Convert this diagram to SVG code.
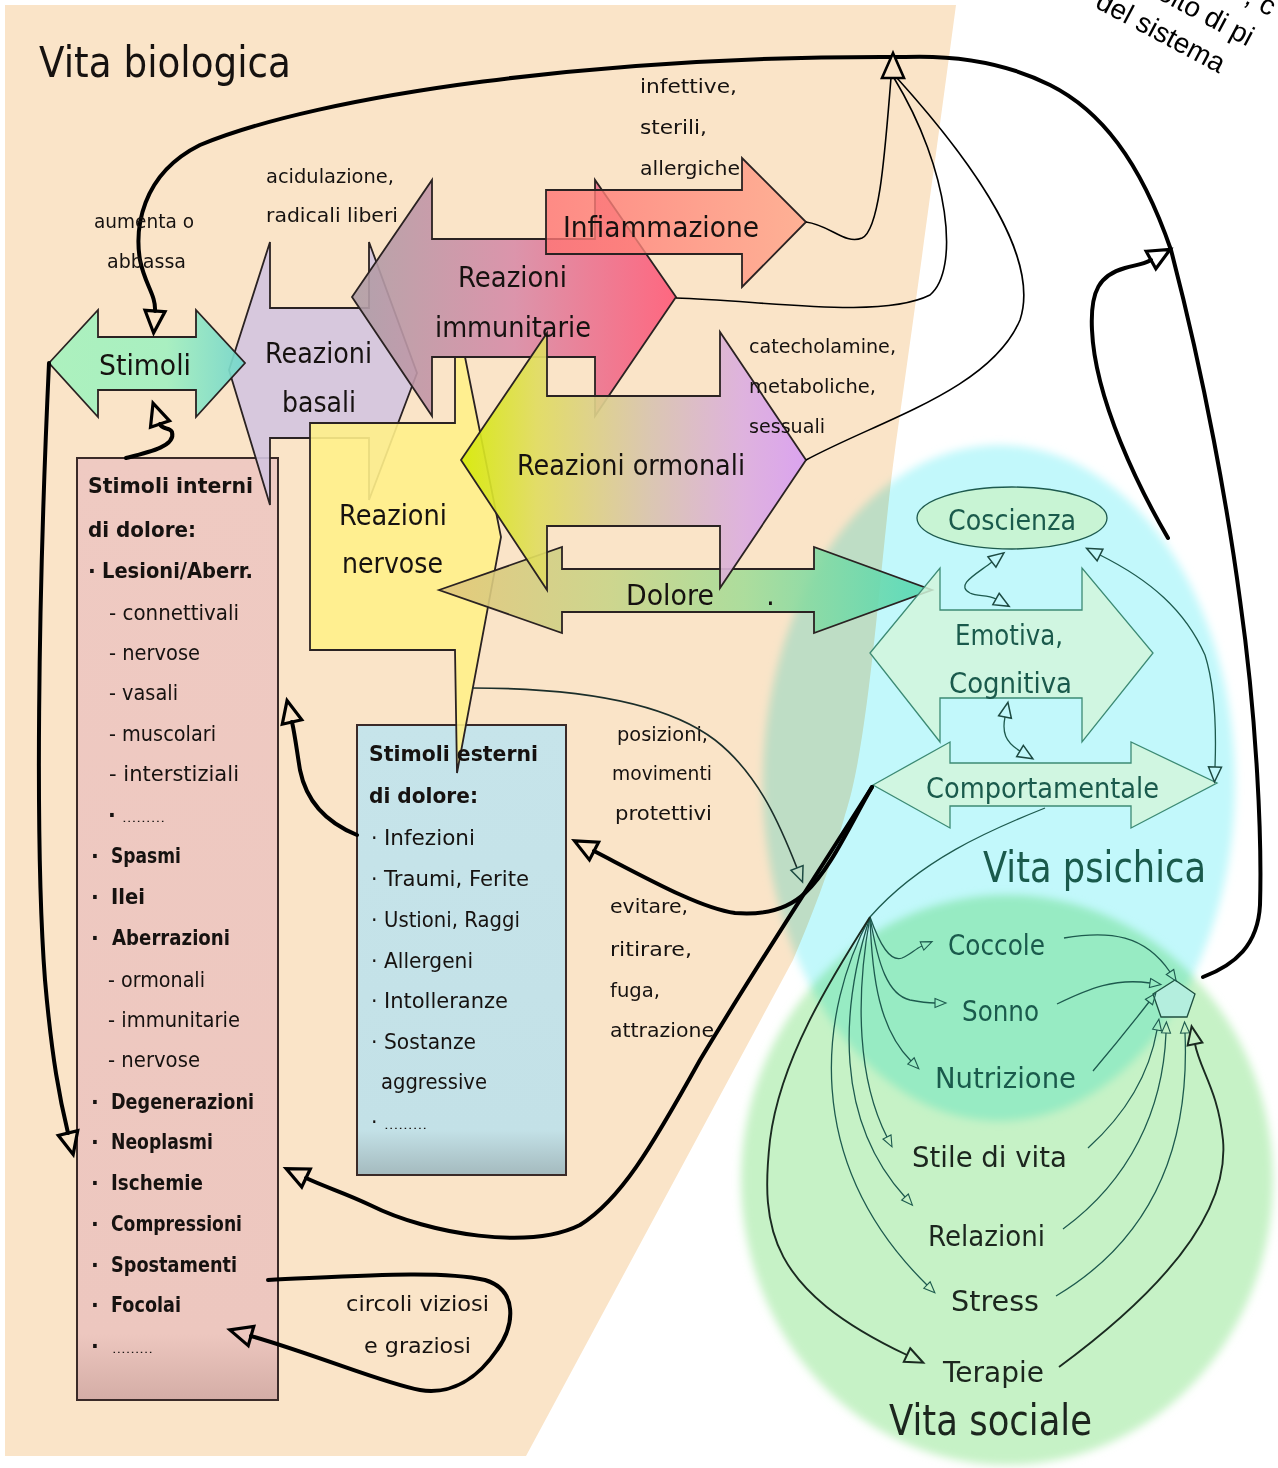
<svg xmlns="http://www.w3.org/2000/svg" width="1278" height="1468" viewBox="0 0 1278 1468">
<style>
text{font-family:'DejaVu Sans','Liberation Sans',sans-serif;fill:#161210}
.b{font-weight:bold}
.l{font-size:19px}
.m{font-size:20.5px}
.n{font-size:28px}
.big{font-size:42px}
.p{fill:#1a5a4c}
.k{fill:#1c261e}
.ar{stroke:#2a2222;stroke-width:1.8;stroke-linejoin:miter}
.gr{stroke:#3c8a74;stroke-width:1.3;fill:#d2f6dc;fill-opacity:0.85}
.thick{fill:none;stroke:#000;stroke-width:4;stroke-linecap:round}
.thin{fill:none;stroke:#000;stroke-width:1.6}
.tl{fill:none;stroke:#1d5a4e;stroke-width:1.3}
.dk{fill:none;stroke:#1a2a20;stroke-width:1.9}
.rot{font-family:'Liberation Sans',Arial,sans-serif;font-size:28px;fill:#000}
</style>
<defs>
<linearGradient id="gStim"><stop offset="0" stop-color="#a6f2bd"/><stop offset="0.6" stop-color="#a2f0c0"/><stop offset="1" stop-color="#72d6cc"/></linearGradient>
<linearGradient id="gImm"><stop offset="0" stop-color="#ae9ea6"/><stop offset="0.5" stop-color="#d88ca8"/><stop offset="1" stop-color="#ff5a78"/></linearGradient>
<linearGradient id="gInf"><stop offset="0" stop-color="#ff7474"/><stop offset="1" stop-color="#ffa488"/></linearGradient>
<linearGradient id="gOrm"><stop offset="0" stop-color="#d6ea08"/><stop offset="0.22" stop-color="#e0dc60"/><stop offset="0.55" stop-color="#d8c4b0"/><stop offset="0.82" stop-color="#dcaee0"/><stop offset="1" stop-color="#d89ef2"/></linearGradient>
<linearGradient id="gDol"><stop offset="0" stop-color="#e2c67a"/><stop offset="0.35" stop-color="#c8d488"/><stop offset="0.62" stop-color="#a4dc98"/><stop offset="0.95" stop-color="#5cd8b2"/></linearGradient>
<linearGradient id="gPink" x1="0" y1="0" x2="0" y2="1"><stop offset="0" stop-color="#efcac2"/><stop offset="0.93" stop-color="#edc7bf"/><stop offset="1" stop-color="#d4ada6"/></linearGradient>
<linearGradient id="gBlue" x1="0" y1="0" x2="0" y2="1"><stop offset="0" stop-color="#c6e4ea"/><stop offset="0.9" stop-color="#c3e1e7"/><stop offset="1" stop-color="#a4babe"/></linearGradient>
<filter id="soft" x="-10%" y="-10%" width="120%" height="120%"><feGaussianBlur stdDeviation="4"/></filter>
<marker id="mb" markerUnits="userSpaceOnUse" markerWidth="30" markerHeight="26" viewBox="-3 -3 30 26" refX="0" refY="10" orient="auto" overflow="visible"><path d="M0,0 L22,10 L0,20 Z" fill="none" stroke="#000" stroke-width="3.2"/></marker>
<marker id="mk" markerUnits="userSpaceOnUse" markerWidth="24" markerHeight="20" viewBox="-2 -2 24 20" refX="0" refY="7.5" orient="auto" overflow="visible"><path d="M0,0 L18,7.5 L0,15 Z" fill="none" stroke="#1a2a20" stroke-width="2"/></marker>
<marker id="mm" markerUnits="userSpaceOnUse" markerWidth="21" markerHeight="18" viewBox="-2 -2 21 18" refX="0" refY="6.5" orient="auto-start-reverse" overflow="visible"><path d="M0,0 L15,6.5 L0,13 Z" fill="none" stroke="#1d4a42" stroke-width="1.5"/></marker>
<marker id="mt" markerUnits="userSpaceOnUse" markerWidth="16" markerHeight="13" viewBox="-2 -2 16 13" refX="0" refY="4.5" orient="auto" overflow="visible"><path d="M0,0 L11,4.5 L0,9 Z" fill="none" stroke="#1d5a4e" stroke-width="1.1"/></marker>
</defs>

<rect width="1278" height="1468" fill="#ffffff"/>
<g id="vita-biologica-area"><path d="M5,5 L956,5 C930,200 905,380 895,450 C880,560 870,740 845,815 C830,870 810,920 793,960 L526,1456 L5,1456 Z" fill="#fae4c8"/></g>
<g id="vita-psichica-area"><ellipse cx="999" cy="783" rx="236" ry="338" fill="#c2f8fb" filter="url(#soft)" style="mix-blend-mode:multiply"/></g>
<g id="vita-sociale-area"><ellipse cx="1007" cy="1180" rx="266" ry="285" fill="#c6f2c6" filter="url(#soft)" style="mix-blend-mode:multiply"/></g>

<g id="stimoli-interni"><rect x="77" y="458" width="201" height="942" fill="url(#gPink)" stroke="#3a2a28" stroke-width="2"/></g>
<g id="stimoli-esterni"><rect x="357" y="725" width="209" height="450" fill="url(#gBlue)" stroke="#3a2a28" stroke-width="2"/></g>

<g id="reazioni-basali"><polygon class="ar" points="229,370 270,242 270,308 369,308 369,242 417,373 369,500 369,438 270,438 270,505" fill="#d3c4df" fill-opacity="0.9"/></g>
<g id="reazioni-immunitarie"><polygon class="ar" points="352,297 432,180 432,239 595,239 595,180 676,297 595,416 595,357 432,357 432,416" fill="url(#gImm)" fill-opacity="0.9"/></g>
<g id="infiammazione"><polygon class="ar" points="546,190 742,190 742,158 806,222 742,287 742,254 546,254" fill="url(#gInf)" fill-opacity="0.8" stroke-width="1.2"/></g>
<g id="reazioni-nervose"><polygon class="ar" points="455,357 465,357 501,537 457,773 455,650 310,650 310,423 455,423" fill="#fff08a" fill-opacity="0.9"/></g>
<g id="dolore"><polygon class="ar" points="439,590 562,547 562,569 814,569 814,547 932,590 814,633 814,612 562,612 562,633" fill="url(#gDol)" fill-opacity="0.9"/></g>
<g id="reazioni-ormonali"><polygon class="ar" points="461,460 547,333 547,396 720,396 720,332 806,460 720,588 720,526 547,526 547,590" fill="url(#gOrm)" fill-opacity="0.92"/></g>
<g id="stimoli"><polygon class="ar" points="49,363 98,310 98,337 196,337 196,310 245,363 196,417 196,390 98,390 98,417" fill="url(#gStim)" fill-opacity="0.92" stroke="#1d4a30"/></g>

<g id="emotiva-cognitiva"><polygon class="gr" points="870,653 940,568 940,610 1082,610 1082,568 1153,653 1082,742 1082,698 940,698 940,742"/></g>
<g id="comportamentale"><polygon class="gr" points="873,785 950,742 950,763 1131,763 1131,742 1217,783 1131,828 1131,806 950,806 950,828"/></g>
<g id="coscienza"><ellipse cx="1012" cy="518" rx="95" ry="31" fill="#c8f4d4" stroke="#1d5a4e" stroke-width="1.3"/></g>
<g id="pentagono"><polygon points="1175,980 1195,994 1187,1017 1161,1017 1153,994" fill="#b4eede" stroke="#1f4f40" stroke-width="1.3"/></g>

<g id="connectors">
<path class="thick" d="M1203,977 C1235,965 1258,945 1260,905 C1262,840 1257,720 1240,600 C1228,510 1205,380 1171,250 C1140,160 1100,110 1050,85 C1010,65 960,55 905,57 C600,55 320,95 200,145 C140,175 135,230 140,260 C145,285 156,295 155,311" marker-end="url(#mb)"/>
<path class="thick" d="M49,363 C38,600 35,850 45,980 C52,1060 60,1100 68,1133" marker-end="url(#mb)"/>
<path class="thick" d="M126,458 C150,452 176,446 172,432 C170,427 162,430 160,424" marker-end="url(#mb)"/>
<path class="thick" d="M357,835 C325,822 306,800 300,770 C297,752 295,735 292,722" marker-end="url(#mb)"/>
<path class="thick" d="M872,787 C850,825 830,870 805,893 C785,912 760,915 735,913 C700,908 650,880 594,851" marker-end="url(#mb)"/>
<path class="thick" d="M872,787 C820,870 760,960 700,1060 C650,1150 620,1200 580,1225 C530,1250 430,1235 370,1205 C345,1193 325,1187 306,1178" marker-end="url(#mb)"/>
<path class="thick" d="M268,1280 C360,1276 440,1270 485,1280 C518,1290 515,1325 497,1350 C478,1378 452,1395 420,1390 C385,1384 320,1356 251,1336" marker-end="url(#mb)"/>
<path class="thick" d="M1168,538 C1140,490 1095,400 1092,330 C1090,290 1100,275 1125,268 C1135,265 1142,265 1151,260" marker-end="url(#mb)"/>
<path class="thin" d="M806,222 C830,225 845,245 862,238 C880,230 885,150 891,78"/>
<path class="thin" d="M676,298 C760,300 880,320 930,295 C960,270 950,170 894,78"/>
<path class="thin" d="M806,460 C880,420 990,390 1020,320 C1040,260 980,170 897,78"/>
<polygon points="893,53 882,78 904,78" fill="#fae4c8" stroke="#000" stroke-width="2.6"/>
<path d="M472,688 C560,688 660,698 715,740 C760,775 782,830 797,868" fill="none" stroke="#1b2e2a" stroke-width="1.6" marker-end="url(#mm)"/>
<path class="tl" d="M1045,808 C990,830 920,860 870,917"/>
<path class="tl" d="M870,917 C880,945 890,962 902,958 C910,955 915,949 922,946" marker-end="url(#mt)"/>
<path class="tl" d="M870,917 C878,965 888,995 910,1000 C920,1002 928,1003 935,1003" marker-end="url(#mt)"/>
<path class="tl" d="M870,917 C872,980 880,1030 911,1061" marker-end="url(#mt)"/>
<path class="tl" d="M870,917 C855,1000 858,1080 887,1137" marker-end="url(#mt)"/>
<path class="tl" d="M870,917 C840,1010 835,1120 905,1197" marker-end="url(#mt)"/>
<path class="tl" d="M870,917 C820,1010 800,1160 927,1285" marker-end="url(#mt)"/>
<path class="dk" d="M870,917 C830,980 780,1060 770,1140 C760,1230 770,1290 907,1355" marker-end="url(#mk)"/>
<path class="tl" d="M1064,938 C1110,930 1145,935 1170,972" marker-end="url(#mt)"/>
<path class="tl" d="M1057,1004 C1090,988 1115,978 1150,983" marker-end="url(#mt)"/>
<path class="tl" d="M1093,1071 C1115,1045 1135,1020 1149,1002" marker-end="url(#mt)"/>
<path class="tl" d="M1088,1148 C1130,1110 1150,1070 1157,1030" marker-end="url(#mt)"/>
<path class="tl" d="M1063,1229 C1130,1180 1163,1110 1166,1033" marker-end="url(#mt)"/>
<path class="tl" d="M1056,1296 C1150,1240 1190,1150 1185,1033" marker-end="url(#mt)"/>
<path class="dk" d="M1059,1367 C1150,1300 1230,1220 1223,1140 C1218,1090 1200,1070 1195,1044" marker-end="url(#mk)"/>
<path class="tl" d="M992,562 C975,575 955,585 970,593 C978,597 987,594 996,599" stroke-width="1.5" marker-start="url(#mm)" marker-end="url(#mm)"/>
<path class="tl" d="M1005,717 C1002,732 1005,742 1020,751" stroke-width="1.5" marker-start="url(#mm)" marker-end="url(#mm)"/>
<path class="tl" d="M1100,555 C1150,580 1185,610 1205,655 C1216,690 1216,740 1215,767" stroke-width="1.5" marker-start="url(#mm)" marker-end="url(#mm)"/>
</g>

<g id="labels">
<text x="39" y="77" class="big" textLength="252" lengthAdjust="spacingAndGlyphs">Vita biologica</text>
<text x="94" y="228" class="l" textLength="100" lengthAdjust="spacingAndGlyphs">aumenta o</text>
<text x="107" y="268" class="l" textLength="79" lengthAdjust="spacingAndGlyphs">abbassa</text>
<text x="266" y="183" class="l" textLength="128" lengthAdjust="spacingAndGlyphs">acidulazione,</text>
<text x="266" y="222" class="l" textLength="132" lengthAdjust="spacingAndGlyphs">radicali liberi</text>
<text x="640" y="93" class="l" textLength="97" lengthAdjust="spacingAndGlyphs">infettive,</text>
<text x="640" y="134" class="l" textLength="67" lengthAdjust="spacingAndGlyphs">sterili,</text>
<text x="640" y="175" class="l" textLength="100" lengthAdjust="spacingAndGlyphs">allergiche</text>
<text x="749" y="353" class="l" textLength="147" lengthAdjust="spacingAndGlyphs">catecholamine,</text>
<text x="749" y="393" class="l" textLength="127" lengthAdjust="spacingAndGlyphs">metaboliche,</text>
<text x="749" y="433" class="l" textLength="76" lengthAdjust="spacingAndGlyphs">sessuali</text>
<text x="617" y="741" class="l" textLength="91" lengthAdjust="spacingAndGlyphs">posizioni,</text>
<text x="612" y="780" class="l" textLength="100" lengthAdjust="spacingAndGlyphs">movimenti</text>
<text x="615" y="820" class="l" textLength="97" lengthAdjust="spacingAndGlyphs">protettivi</text>
<text x="610" y="913" class="l" textLength="78" lengthAdjust="spacingAndGlyphs">evitare,</text>
<text x="610" y="956" class="l" textLength="82" lengthAdjust="spacingAndGlyphs">ritirare,</text>
<text x="610" y="997" class="l" textLength="50" lengthAdjust="spacingAndGlyphs">fuga,</text>
<text x="610" y="1037" class="l" textLength="104" lengthAdjust="spacingAndGlyphs">attrazione</text>
<text x="346" y="1311" class="m" textLength="143" lengthAdjust="spacingAndGlyphs">circoli viziosi</text>
<text x="364" y="1353" class="m" textLength="107" lengthAdjust="spacingAndGlyphs">e graziosi</text>
<text x="99" y="375" class="n" textLength="92" lengthAdjust="spacingAndGlyphs">Stimoli</text>
<text x="265" y="363" class="n" textLength="107" lengthAdjust="spacingAndGlyphs">Reazioni</text>
<text x="282" y="412" class="n" textLength="74" lengthAdjust="spacingAndGlyphs">basali</text>
<text x="458" y="287" class="n" textLength="109" lengthAdjust="spacingAndGlyphs">Reazioni</text>
<text x="435" y="337" class="n" textLength="156" lengthAdjust="spacingAndGlyphs">immunitarie</text>
<text x="563" y="237" class="n" textLength="196" lengthAdjust="spacingAndGlyphs">Infiammazione</text>
<text x="517" y="475" class="n" textLength="228" lengthAdjust="spacingAndGlyphs">Reazioni ormonali</text>
<text x="339" y="525" class="n" textLength="108" lengthAdjust="spacingAndGlyphs">Reazioni</text>
<text x="342" y="573" class="n" textLength="101" lengthAdjust="spacingAndGlyphs">nervose</text>
<text x="626" y="605" class="n" textLength="88" lengthAdjust="spacingAndGlyphs">Dolore</text>
<text x="766" y="605" class="n">.</text>
</g>

<g id="stimoli-interni-text">
<text x="88" y="493" class="m b" textLength="165" lengthAdjust="spacingAndGlyphs">Stimoli interni</text>
<text x="88" y="537" class="m b" textLength="108" lengthAdjust="spacingAndGlyphs">di dolore:</text>
<text x="88" y="578" class="m b">·</text>
<text x="102" y="578" class="m b" textLength="151" lengthAdjust="spacingAndGlyphs">Lesioni/Aberr.</text>
<text x="109" y="620" class="m" textLength="130" lengthAdjust="spacingAndGlyphs">- connettivali</text>
<text x="109" y="660" class="m" textLength="91" lengthAdjust="spacingAndGlyphs">- nervose</text>
<text x="109" y="700" class="m" textLength="69" lengthAdjust="spacingAndGlyphs">- vasali</text>
<text x="109" y="741" class="m" textLength="107" lengthAdjust="spacingAndGlyphs">- muscolari</text>
<text x="109" y="781" class="m" textLength="130" lengthAdjust="spacingAndGlyphs">- interstiziali</text>
<text x="108" y="822" class="m b">·</text>
<text x="122" y="822" font-size="11" textLength="43" lengthAdjust="spacingAndGlyphs">………</text>
<text x="91" y="863" class="m b">·</text><text x="111" y="863" class="m b" textLength="70" lengthAdjust="spacingAndGlyphs">Spasmi</text>
<text x="91" y="904" class="m b">·</text><text x="111" y="904" class="m b" textLength="34" lengthAdjust="spacingAndGlyphs">Ilei</text>
<text x="91" y="945" class="m b">·</text><text x="112" y="945" class="m b" textLength="118" lengthAdjust="spacingAndGlyphs">Aberrazioni</text>
<text x="108" y="987" class="m" textLength="97" lengthAdjust="spacingAndGlyphs">- ormonali</text>
<text x="108" y="1027" class="m" textLength="132" lengthAdjust="spacingAndGlyphs">- immunitarie</text>
<text x="108" y="1067" class="m" textLength="92" lengthAdjust="spacingAndGlyphs">- nervose</text>
<text x="91" y="1109" class="m b">·</text><text x="111" y="1109" class="m b" textLength="143" lengthAdjust="spacingAndGlyphs">Degenerazioni</text>
<text x="91" y="1149" class="m b">·</text><text x="111" y="1149" class="m b" textLength="102" lengthAdjust="spacingAndGlyphs">Neoplasmi</text>
<text x="91" y="1190" class="m b">·</text><text x="111" y="1190" class="m b" textLength="92" lengthAdjust="spacingAndGlyphs">Ischemie</text>
<text x="91" y="1231" class="m b">·</text><text x="111" y="1231" class="m b" textLength="131" lengthAdjust="spacingAndGlyphs">Compressioni</text>
<text x="91" y="1272" class="m b">·</text><text x="111" y="1272" class="m b" textLength="126" lengthAdjust="spacingAndGlyphs">Spostamenti</text>
<text x="91" y="1312" class="m b">·</text><text x="111" y="1312" class="m b" textLength="70" lengthAdjust="spacingAndGlyphs">Focolai</text>
<text x="91" y="1353" class="m b">·</text><text x="112" y="1353" font-size="11" textLength="41" lengthAdjust="spacingAndGlyphs">………</text>
</g>

<g id="stimoli-esterni-text">
<text x="369" y="761" class="m b" textLength="169" lengthAdjust="spacingAndGlyphs">Stimoli esterni</text>
<text x="369" y="803" class="m b" textLength="109" lengthAdjust="spacingAndGlyphs">di dolore:</text>
<text x="371" y="845" class="m">·</text><text x="384" y="845" class="m" textLength="91" lengthAdjust="spacingAndGlyphs">Infezioni</text>
<text x="371" y="886" class="m">·</text><text x="384" y="886" class="m" textLength="145" lengthAdjust="spacingAndGlyphs">Traumi, Ferite</text>
<text x="371" y="927" class="m">·</text><text x="384" y="927" class="m" textLength="136" lengthAdjust="spacingAndGlyphs">Ustioni, Raggi</text>
<text x="371" y="968" class="m">·</text><text x="384" y="968" class="m" textLength="89" lengthAdjust="spacingAndGlyphs">Allergeni</text>
<text x="371" y="1008" class="m">·</text><text x="384" y="1008" class="m" textLength="124" lengthAdjust="spacingAndGlyphs">Intolleranze</text>
<text x="371" y="1049" class="m">·</text><text x="384" y="1049" class="m" textLength="92" lengthAdjust="spacingAndGlyphs">Sostanze</text>
<text x="381" y="1089" class="m" textLength="106" lengthAdjust="spacingAndGlyphs">aggressive</text>
<text x="371" y="1129" class="m">·</text><text x="384" y="1129" font-size="11" textLength="43" lengthAdjust="spacingAndGlyphs">………</text>
</g>

<g id="psichica-text">
<text x="948" y="530" class="n p" textLength="128" lengthAdjust="spacingAndGlyphs">Coscienza</text>
<text x="955" y="645" class="n p" textLength="108" lengthAdjust="spacingAndGlyphs">Emotiva,</text>
<text x="949" y="693" class="n p" textLength="123" lengthAdjust="spacingAndGlyphs">Cognitiva</text>
<text x="926" y="798" class="n p" textLength="233" lengthAdjust="spacingAndGlyphs">Comportamentale</text>
<text x="983" y="882" class="big p" textLength="223" lengthAdjust="spacingAndGlyphs">Vita psichica</text>
</g>

<g id="sociale-text">
<text x="948" y="955" class="n p" textLength="97" lengthAdjust="spacingAndGlyphs">Coccole</text>
<text x="962" y="1021" class="n p" textLength="77" lengthAdjust="spacingAndGlyphs">Sonno</text>
<text x="935" y="1088" class="n p" textLength="141" lengthAdjust="spacingAndGlyphs">Nutrizione</text>
<text x="912" y="1167" class="n k" textLength="155" lengthAdjust="spacingAndGlyphs">Stile di vita</text>
<text x="928" y="1246" class="n k" textLength="117" lengthAdjust="spacingAndGlyphs">Relazioni</text>
<text x="951" y="1311" class="n k" textLength="88" lengthAdjust="spacingAndGlyphs">Stress</text>
<text x="943" y="1382" class="n k" textLength="101" lengthAdjust="spacingAndGlyphs">Terapie</text>
<text x="889" y="1435" class="big k" textLength="203" lengthAdjust="spacingAndGlyphs">Vita sociale</text>
</g>

<g id="corner-note" transform="translate(1094,7) rotate(28)">
<text x="130" y="-74" class="rot">, c</text>
<text x="50" y="-37" class="rot">olto di pi</text>
<text x="0" y="0" class="rot">del sistema</text>
</g>
</svg>
